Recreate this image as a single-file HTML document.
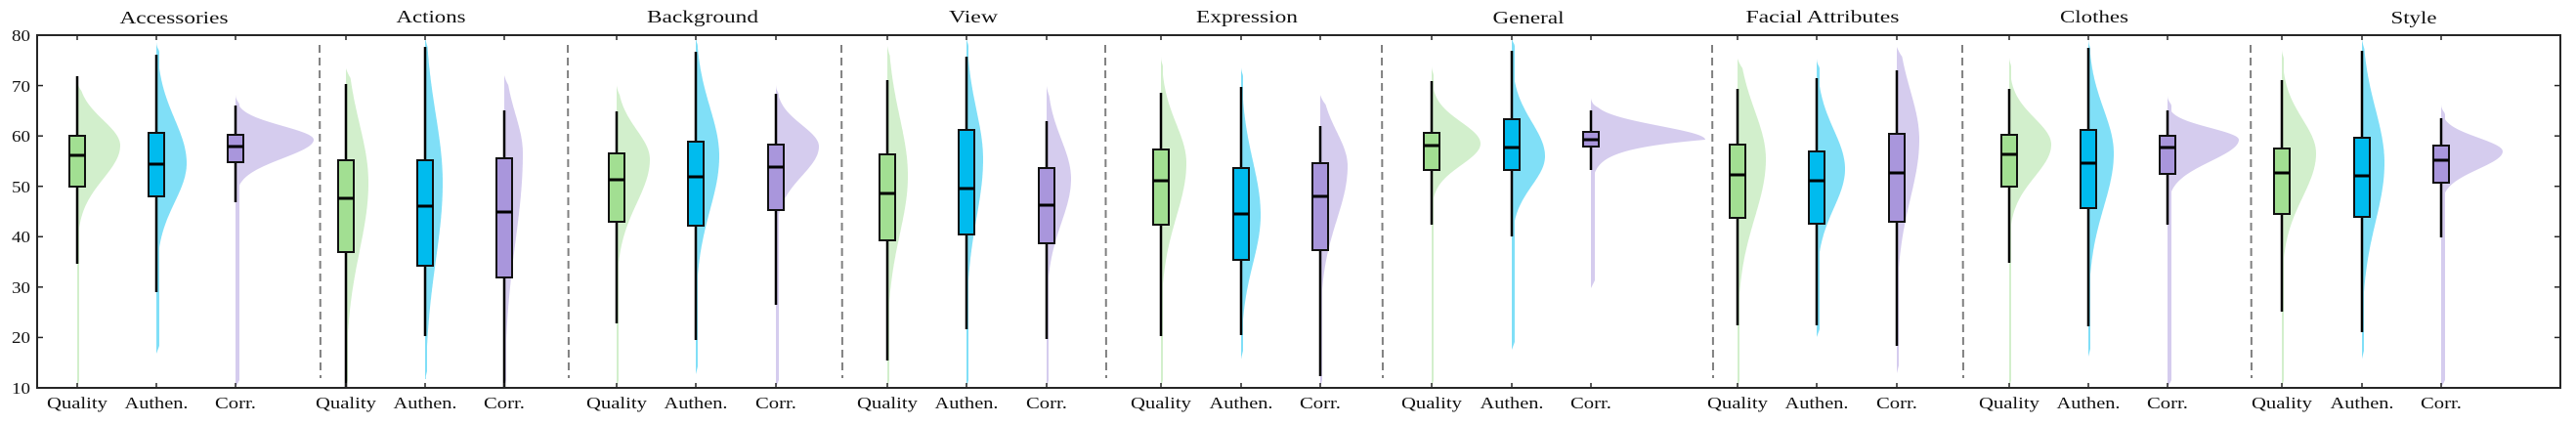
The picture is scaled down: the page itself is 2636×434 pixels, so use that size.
<!DOCTYPE html>
<html><head><meta charset="utf-8"><style>
html,body{margin:0;padding:0;background:#fff;}
svg{display:block;}
text{font-family:"Liberation Serif",serif;fill:#111;}
</style></head><body>
<svg id="s" width="2636" height="434" viewBox="0 0 2636 434" xmlns="http://www.w3.org/2000/svg">
<g id="v"></g>
<g id="b"></g>
<g id="f">
<rect x="38" y="36" width="2582" height="361" fill="none" stroke="#262626" stroke-width="2"/>
</g>
<g font-size="18">
<text x="178" y="24" text-anchor="middle" textLength="111" lengthAdjust="spacingAndGlyphs">Accessories</text>
<text x="441" y="23" text-anchor="middle" textLength="71" lengthAdjust="spacingAndGlyphs">Actions</text>
<text x="719" y="23" text-anchor="middle" textLength="114" lengthAdjust="spacingAndGlyphs">Background</text>
<text x="996" y="23" text-anchor="middle" textLength="50" lengthAdjust="spacingAndGlyphs">View</text>
<text x="1276" y="23" text-anchor="middle" textLength="104" lengthAdjust="spacingAndGlyphs">Expression</text>
<text x="1564" y="24" text-anchor="middle" textLength="73" lengthAdjust="spacingAndGlyphs">General</text>
<text x="1865" y="23" text-anchor="middle" textLength="157" lengthAdjust="spacingAndGlyphs">Facial Attributes</text>
<text x="2143" y="23" text-anchor="middle" textLength="70" lengthAdjust="spacingAndGlyphs">Clothes</text>
<text x="2470" y="24" text-anchor="middle" textLength="47" lengthAdjust="spacingAndGlyphs">Style</text>
</g>
<g font-size="17" text-anchor="end">
<text x="31" y="42" textLength="19" lengthAdjust="spacingAndGlyphs">80</text>
<text x="31" y="94" textLength="19" lengthAdjust="spacingAndGlyphs">70</text>
<text x="31" y="145" textLength="19" lengthAdjust="spacingAndGlyphs">60</text>
<text x="31" y="197" textLength="19" lengthAdjust="spacingAndGlyphs">50</text>
<text x="31" y="248" textLength="19" lengthAdjust="spacingAndGlyphs">40</text>
<text x="31" y="300" textLength="19" lengthAdjust="spacingAndGlyphs">30</text>
<text x="31" y="351" textLength="19" lengthAdjust="spacingAndGlyphs">20</text>
<text x="31" y="403" textLength="19" lengthAdjust="spacingAndGlyphs">10</text>
</g>
<g font-size="17" text-anchor="middle">
<text x="79" y="418" textLength="62" lengthAdjust="spacingAndGlyphs">Quality</text>
<text x="160" y="418" textLength="65" lengthAdjust="spacingAndGlyphs">Authen.</text>
<text x="241" y="418" textLength="42" lengthAdjust="spacingAndGlyphs">Corr.</text>
<text x="354" y="418" textLength="62" lengthAdjust="spacingAndGlyphs">Quality</text>
<text x="435" y="418" textLength="65" lengthAdjust="spacingAndGlyphs">Authen.</text>
<text x="516" y="418" textLength="42" lengthAdjust="spacingAndGlyphs">Corr.</text>
<text x="631" y="418" textLength="62" lengthAdjust="spacingAndGlyphs">Quality</text>
<text x="712" y="418" textLength="65" lengthAdjust="spacingAndGlyphs">Authen.</text>
<text x="794" y="418" textLength="42" lengthAdjust="spacingAndGlyphs">Corr.</text>
<text x="908" y="418" textLength="62" lengthAdjust="spacingAndGlyphs">Quality</text>
<text x="989" y="418" textLength="65" lengthAdjust="spacingAndGlyphs">Authen.</text>
<text x="1071" y="418" textLength="42" lengthAdjust="spacingAndGlyphs">Corr.</text>
<text x="1188" y="418" textLength="62" lengthAdjust="spacingAndGlyphs">Quality</text>
<text x="1270" y="418" textLength="65" lengthAdjust="spacingAndGlyphs">Authen.</text>
<text x="1351" y="418" textLength="42" lengthAdjust="spacingAndGlyphs">Corr.</text>
<text x="1465" y="418" textLength="62" lengthAdjust="spacingAndGlyphs">Quality</text>
<text x="1547" y="418" textLength="65" lengthAdjust="spacingAndGlyphs">Authen.</text>
<text x="1628" y="418" textLength="42" lengthAdjust="spacingAndGlyphs">Corr.</text>
<text x="1778" y="418" textLength="62" lengthAdjust="spacingAndGlyphs">Quality</text>
<text x="1859" y="418" textLength="65" lengthAdjust="spacingAndGlyphs">Authen.</text>
<text x="1941" y="418" textLength="42" lengthAdjust="spacingAndGlyphs">Corr.</text>
<text x="2056" y="418" textLength="62" lengthAdjust="spacingAndGlyphs">Quality</text>
<text x="2137" y="418" textLength="65" lengthAdjust="spacingAndGlyphs">Authen.</text>
<text x="2218" y="418" textLength="42" lengthAdjust="spacingAndGlyphs">Corr.</text>
<text x="2335" y="418" textLength="62" lengthAdjust="spacingAndGlyphs">Quality</text>
<text x="2417" y="418" textLength="65" lengthAdjust="spacingAndGlyphs">Authen.</text>
<text x="2498" y="418" textLength="42" lengthAdjust="spacingAndGlyphs">Corr.</text>
</g>
</svg>
<script>
(function(){
var NS="http://www.w3.org/2000/svg";
function el(p,t,a){var e=document.createElementNS(NS,t);for(var k in a)e.setAttribute(k,a[k]);p.appendChild(e);return e;}
var V=document.getElementById('v'),B=document.getElementById('b'),F=document.getElementById('f');
var cols=[["#A2DF92","#D2EFCC"],["#00BBEE","#80DFF7"],["#A996DC","#D5CCEE"]];
// x, type, wt,q3,med,q1,wb, vt,vb,py,pw,su,sd,floor,p(lower)
var D=[
[79,0,78,139,159,191,270,83,397,149,44,26,34,2,2],
[160,1,56,136,168,201,299,43,362,167,31,45,40,3,2],
[241,2,108,138,150,166,207,97,397,143,80,14,19,4,2],
[354,0,86,164,203,258,397,70,397,187,23,60,70,2,2],
[435,1,48,164,211,272,344,38,388,187,18,70,80,2,2],
[516,2,113,162,217,284,397,77,397,157,19,40,90,2,2],
[631,0,114,157,184,227,331,87,397,163,34,30,45,2,2],
[712,1,53,145,181,231,348,37,383,160,24,50,55,2,2],
[794,2,96,148,171,215,312,87,397,150,44,22,30,3,2],
[908,0,82,158,198,246,369,47,397,180,21,60,60,2,2],
[989,1,58,133,193,240,337,37,397,163,17,50,60,2,2],
[1071,2,124,172,210,249,347,88,397,183,25,40,45,2,2],
[1188,0,95,153,185,230,344,58,397,167,26,40,55,2,2],
[1270,1,89,172,219,266,343,68,367,220,20,55,50,2,2],
[1351,2,129,167,201,256,385,97,397,170,28,35,55,2,2],
[1465,0,83,136,149,174,230,67,397,147,50,22,22,2,2],
[1547,1,52,122,151,174,242,37,358,160,34,35,30,3,2],
[1628,2,113,135,143,150,174,100,295,143,117,14,10,4,1],
[1778,0,91,148,179,223,333,60,397,163,29,50,60,2,2],
[1859,1,80,155,185,229,333,60,345,173,29,40,40,3,2],
[1941,2,72,137,177,227,354,48,382,143,23,50,60,2,2],
[2056,0,91,138,158,191,269,58,397,148,43,27,33,2,2],
[2137,1,49,133,167,213,334,40,365,157,26,45,55,2,2],
[2218,2,113,139,151,178,230,98,397,143,73,12,22,4,2],
[2335,0,82,152,177,219,319,50,397,157,35,35,45,2,2],
[2417,1,52,141,180,222,340,40,367,167,23,55,60,2,2],
[2498,2,121,149,164,187,243,107,397,155,63,14,18,4,2]
];
D.forEach(function(d){
var x=d[0],c=cols[d[1]];
var pts=["M"+x+","+d[7]];
for(var y=d[7];y<=d[8];y+=1){
 var dd=y-d[9],w;
 if(dd<0){w=d[10]*Math.exp(-0.5*(dd/d[11])*(dd/d[11]));}
 else{w=d[14]==1?d[10]*Math.exp(-dd/d[12]):d[10]*Math.exp(-0.5*(dd/d[12])*(dd/d[12]));}
 var fl=d[13];var e=Math.min(y-d[7],d[8]-y);if(e<8)fl=fl*e/8;
 w=Math.max(w,fl);
 var t=(y-d[7])/10;if(t<1)w=w*t;
 pts.push("L"+(x+w).toFixed(1)+","+y);
}
pts.push("L"+x+","+d[8]+"Z");
el(V,"path",{d:pts.join(" "),fill:c[1]});
el(B,"line",{x1:x,x2:x,y1:d[2],y2:d[6],stroke:"#000","stroke-width":2.5});
el(B,"rect",{x:x-8,y:d[3],width:16,height:d[5]-d[3],fill:c[0],stroke:"#111","stroke-width":2});
el(B,"line",{x1:x-8,x2:x+8,y1:d[4],y2:d[4],stroke:"#000","stroke-width":3});
el(F,"line",{x1:x,x2:x,y1:36,y2:41,stroke:"#262626","stroke-width":1.5});
el(F,"line",{x1:x,x2:x,y1:392,y2:397,stroke:"#262626","stroke-width":1.5});
});
[327,581,861,1131,1414,1752,2008,2303].forEach(function(x){
el(F,"line",{x1:x,x2:x+1,y1:46,y2:387,stroke:"#808080","stroke-width":2,"stroke-dasharray":"8,5"});
});
for(var v=10;v<=80;v+=10){var y=397-(v-10)*361/70;
el(F,"line",{x1:38,x2:44,y1:y,y2:y,stroke:"#262626","stroke-width":1.5});
el(F,"line",{x1:2614,x2:2620,y1:y,y2:y,stroke:"#262626","stroke-width":1.5});}
})();
</script>
</body></html>
